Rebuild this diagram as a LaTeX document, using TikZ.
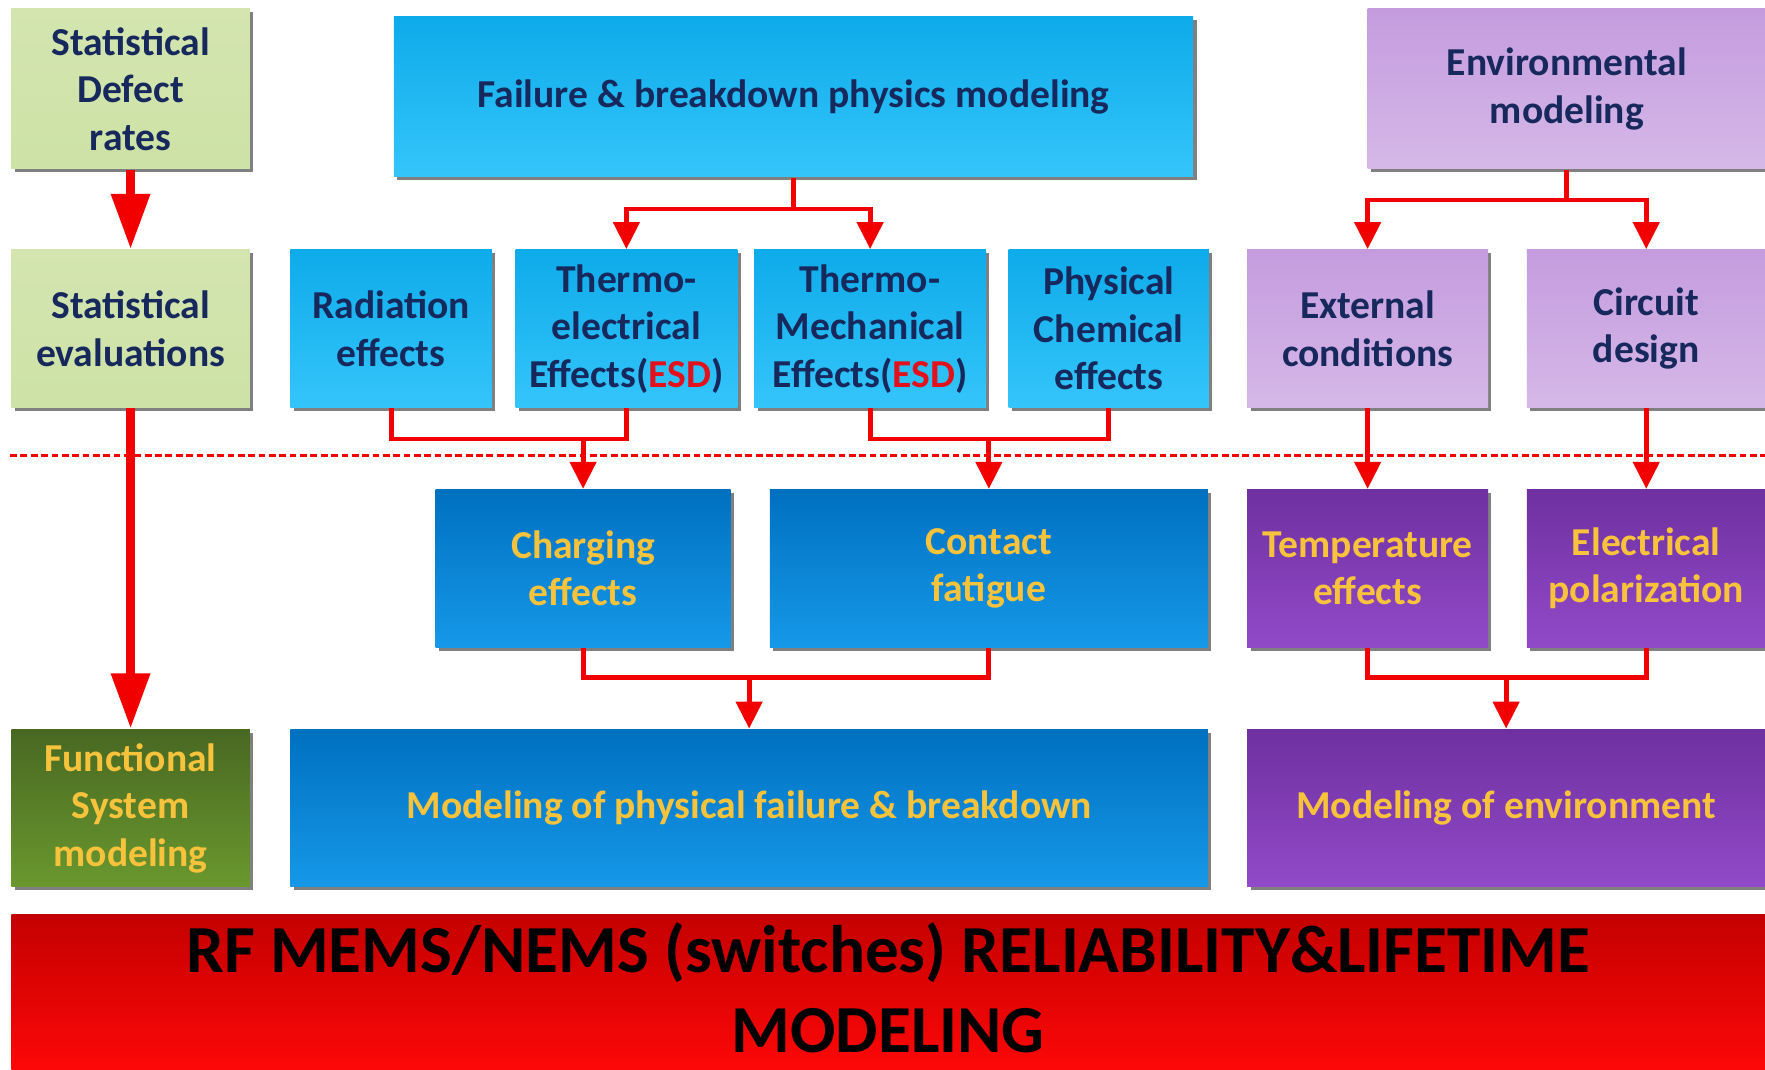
\documentclass[tikz,border=0pt]{standalone}
\usepackage{fontspec}
\setmainfont{Carlito}
\usetikzlibrary{arrows.meta,shadows}

\definecolor{navy}{HTML}{17295C}
\definecolor{gold}{HTML}{F7C23C}
\definecolor{esd}{HTML}{E3111B}
\definecolor{linered}{HTML}{F20000}

\tikzset{
  box/.style={inner sep=0pt, align=center, font=\fontsize{10}{12}\selectfont\bfseries,
    drop shadow={shadow xshift=.3mm, shadow yshift=-.3mm, opacity=1, fill=black!50}},
  paleGreen/.style={box, top color={rgb,255:red,212;green,229;blue,176}, bottom color={rgb,255:red,205;green,226;blue,166}, text=navy},
  paleBlue/.style={box, top color={rgb,255:red,14;green,171;blue,234}, bottom color={rgb,255:red,52;green,197;blue,250}, text=navy},
  palePurple/.style={box, top color={rgb,255:red,196;green,156;blue,222}, bottom color={rgb,255:red,214;green,184;blue,232}, text=navy},
  darkBlue/.style={box, top color={rgb,255:red,0;green,112;blue,192}, bottom color={rgb,255:red,22;green,152;blue,232}, text=gold},
  darkPurple/.style={box, top color={rgb,255:red,110;green,48;blue,160}, bottom color={rgb,255:red,146;green,74;blue,200}, text=gold},
  darkGreen/.style={box, top color={rgb,255:red,72;green,104;blue,34}, bottom color={rgb,255:red,106;green,152;blue,46}, text=gold},
  banner/.style={inner sep=0pt, align=center, font=\fontsize{17}{20}\selectfont\bfseries,
    top color={rgb,255:red,196;green,0;blue,0}, bottom color={rgb,255:red,255;green,8;blue,8}, text=black},
  wire/.style={draw=linered, line width=1.25pt},
  flow/.style={wire, -{Triangle[width=2.3mm,length=2.4mm]}},
  bigflow/.style={draw=linered, line width=2.3pt, -{Triangle[width=3.3mm,length=4.9mm]}},
  divider/.style={draw=linered, line width=.7pt, dash pattern=on .6mm off .32mm},
}

\begin{document}
\begin{tikzpicture}[x=0.1mm, y=-0.1mm]
        \useasboundingbox (0,0) rectangle (1568,950);
        \fill[white] (0,0) rectangle (1568,950);

        % Divider
        \draw[divider] (9,405) -- (1568,405);

        % Nodes
        \node[paleGreen, minimum width=21.2mm, minimum height=14.2mm] (defect) at (116,79) {Statistical\\Defect\\rates};
        \node[paleBlue, minimum width=71mm, minimum height=14.2mm] (failure) at (705,86) {Failure \& breakdown physics modeling};
        \node[palePurple, minimum width=35.4mm, minimum height=14.2mm] (envmod) at (1392,79) {Environmental\\modeling};

        \node[paleGreen, minimum width=21.2mm, minimum height=14mm] (stateval) at (116,292) {Statistical\\evaluations};
        \node[paleBlue, minimum width=17.9mm, minimum height=14mm] (radiation) at (347.5,292) {Radiation\\effects};
        \node[paleBlue, minimum width=19.7mm, minimum height=14mm] (thermoel) at (556.5,292) {Thermo-\\electrical\\Effects({\color{esd}ESD})};
        \node[paleBlue, minimum width=20.6mm, minimum height=14mm] (thermomech) at (773,292) {Thermo-\\Mechanical\\Effects({\color{esd}ESD})};
        \node[paleBlue, minimum width=17.8mm, minimum height=14mm] (physchem) at (985,292) {Physical\\Chemical\\effects};
        \node[palePurple, minimum width=21.4mm, minimum height=14mm] (external) at (1215,292) {External\\conditions};
        \node[palePurple, minimum width=21.2mm, minimum height=14mm] (circuit) at (1462.5,292) {Circuit\\design};

        \node[darkBlue, minimum width=26.2mm, minimum height=14mm] (charging) at (518,505) {Charging\\effects};
        \node[darkBlue, minimum width=38.9mm, minimum height=14mm] (contact) at (878.5,505) {Contact\\fatigue};
        \node[darkPurple, minimum width=21.4mm, minimum height=14mm] (temperature) at (1215,505) {Temperature\\effects};
        \node[darkPurple, minimum width=21.2mm, minimum height=14mm] (electrical) at (1462.5,505) {Electrical\\polarization};

        \node[darkGreen, minimum width=21.2mm, minimum height=14mm] (functional) at (116,718) {Functional\\System\\modeling};
        \node[darkBlue, minimum width=81.5mm, minimum height=14mm] (modphys) at (665.5,718) {Modeling of physical failure \& breakdown};
        \node[darkPurple, minimum width=46mm, minimum height=14mm] (modenv) at (1338,718) {Modeling of environment};

        \node[banner, minimum width=155.8mm, minimum height=14.3mm, text depth=3.5pt] (reliability) at (789,883.5) {RF MEMS/NEMS (switches) RELIABILITY\&LIFETIME\\MODELING};

        % Junctions
        \coordinate (mergeA) at (518,390);
        \coordinate (mergeB) at (878.5,390);
        \coordinate (mergeC) at (665.5,602);
        \coordinate (mergeD) at (1338,602);

        % Arrows
        \draw[bigflow] (defect.south) -- (stateval.north);
        \draw[bigflow] (stateval.south) -- (functional.north);

        \draw[flow] (failure.south) -- ++(0,28) -| (thermoel.north);
        \draw[flow] (failure.south) -- ++(0,28) -| (thermomech.north);
        \draw[flow] (envmod.south) -- ++(0,27) -| (external.north);
        \draw[flow] (envmod.south) -- ++(0,27) -| (circuit.north);

        \draw[wire] (radiation.south) |- (mergeA) -| (thermoel.south);
        \draw[flow] (mergeA) -- (charging.north);
        \draw[wire] (thermomech.south) |- (mergeB) -| (physchem.south);
        \draw[flow] (mergeB) -- (contact.north);
        \draw[flow] (external.south) -- (temperature.north);
        \draw[flow] (circuit.south) -- (electrical.north);

        \draw[wire] (charging.south) |- (mergeC) -| (contact.south);
        \draw[flow] (mergeC) -- (modphys.north);
        \draw[wire] (temperature.south) |- (mergeD) -| (electrical.south);
        \draw[flow] (mergeD) -- (modenv.north);
    \end{tikzpicture}
\end{document}
